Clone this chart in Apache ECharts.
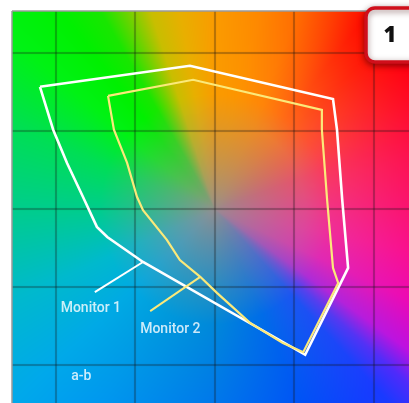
<!DOCTYPE html>
<html>
<head>
<meta charset="utf-8">
<script src="https://cdn.jsdelivr.net/npm/echarts@6/dist/echarts.min.js"></script>
<style>
  html, body { margin: 0; padding: 0; background: #ffffff; }
  #chart { width: 409px; height: 403px; }
</style>
</head>
<body>
<div id="chart"></div>
<script>
// Gamut outlines in the a-b plane (a to the right, b upward)
const monitor1 = [
  [-109.8, 78.3], [-15.5, 91.8], [74.5, 70.5], [77.0, 50.8], [80.3, 5.8],
  [84.0, -37.8], [57.0, -93.5], [-45.0, -34.0], [-67.5, -18.0], [-74.0, -11.5],
  [-82.8, 7.8], [-92.8, 29.5], [-101.5, 50.8], [-109.8, 78.3]
];
const monitor2 = [
  [-67.0, 72.5], [-13.5, 82.8], [67.5, 63.5], [67.5, 50.8], [70.8, 5.8],
  [74.5, -37.8], [77.8, -47.5], [55.8, -91.8], [43.0, -86.0], [22.3, -73.0],
  [1.5, -53.8], [-9.0, -43.5], [-21.8, -32.8], [-30.0, -19.8], [-45.0, -0.8],
  [-48.8, 7.8], [-55.0, 29.5], [-63.3, 50.8], [-67.0, 72.5]
];
// Leader lines from each outline to its caption
const leader1 = [[-45.0, -34.0], [-75.3, -53.3]];
const leader2 = [[-9.0, -43.5], [-40.5, -65.5]];
// Captions and their anchor points
const captionNames = ['Monitor 1', 'Monitor 2', 'a-b'];
const captionPoints = [[-77.8, -63.8], [-27.8, -77.3], [-83.8, -107.3]];
// Visible extent of the a-b plane
const aRange = [-127.4, 122.3];
const bRange = [-124.4, 126.9];
const badgeText = '1';

// Hue wheels used to paint the a-b plane: [angle in degrees, r, g, b]
const outerHues = [
  [0, 255, 0, 100], [15, 255, 0, 70], [30, 255, 0, 30], [45, 255, 0, 0],
  [52, 255, 12, 0], [58, 255, 50, 0], [67, 255, 100, 0], [77, 255, 130, 0],
  [90, 250, 155, 0], [100, 232, 175, 0], [108, 200, 190, 0], [114, 110, 210, 0],
  [120, 25, 230, 0], [128, 0, 240, 0], [140, 0, 242, 20], [158, 0, 222, 85],
  [180, 0, 205, 140], [204, 0, 185, 205], [224, 0, 168, 235], [240, 0, 150, 242],
  [270, 0, 110, 245], [294, 0, 75, 250], [312, 25, 58, 255], [318, 80, 42, 250],
  [324, 190, 15, 225], [335, 240, 0, 180], [348, 255, 0, 135], [360, 255, 0, 100]
];
const innerHues = [
  [0, 240, 60, 140], [20, 248, 70, 100], [35, 252, 95, 60], [50, 255, 120, 30],
  [65, 255, 140, 10], [80, 252, 152, 0], [90, 250, 155, 0], [100, 232, 175, 0],
  [108, 200, 190, 0], [114, 110, 210, 0], [120, 25, 230, 0], [128, 0, 240, 0],
  [140, 0, 242, 20], [158, 0, 222, 85], [180, 0, 205, 140], [204, 0, 185, 205],
  [224, 0, 170, 225], [245, 0, 155, 215], [270, 0, 140, 212], [294, 0, 115, 228],
  [312, 30, 90, 238], [318, 90, 70, 232], [324, 170, 50, 212], [335, 220, 50, 180],
  [348, 235, 55, 160], [360, 240, 60, 140]
];

const chart = echarts.init(document.getElementById('chart'), null, { renderer: 'canvas' });

const lineSeries = (data, color, width, z) => ({
  type: 'line', data: data, symbol: 'none', silent: true, z: z, clip: false,
  lineStyle: { color: color, width: width, join: 'miter' }
});

const splitStyle = { color: 'rgba(25,25,25,0.26)', width: 2, shadowBlur: 2, shadowColor: 'rgba(0,0,0,0.25)' };
const axisCommon = {
  type: 'value', splitNumber: 5,
  axisLine: { show: false }, axisTick: { show: false }, axisLabel: { show: false },
  splitLine: { show: true, showMinLine: false, showMaxLine: false, lineStyle: splitStyle }
};

chart.setOption({
  animation: false,
  backgroundColor: '#ffffff',
  grid: { left: 12, right: 0, top: 11, bottom: 0 },
  xAxis: Object.assign({ min: aRange[0], max: aRange[1] }, axisCommon),
  yAxis: Object.assign({ min: bRange[0], max: bRange[1] }, axisCommon),
  series: [
    lineSeries(monitor1, '#ffffff', 2.6, 4),
    lineSeries(monitor2, '#fbe97a', 2.2, 5),
    lineSeries(leader1, '#ffffff', 2, 4),
    lineSeries(leader2, '#fbe97a', 2, 5),
    {
      type: 'scatter', silent: true, z: 6, symbolSize: 0,
      itemStyle: { color: 'transparent' },
      data: captionNames.map((n, i) => ({ name: n, value: captionPoints[i] })),
      label: {
        show: true, position: 'inside', formatter: '{b}', color: '#ffffff',
        fontFamily: 'Roboto', fontWeight: 500, fontSize: 14
      }
    }
  ]
});

// Paint the a-b colour plane behind the grid
function hueColor(stops, deg) {
  for (let i = 1; i < stops.length; i++) {
    const a = stops[i - 1], b = stops[i];
    if (deg <= b[0]) {
      const t = (deg - a[0]) / (b[0] - a[0]);
      return [a[1] + (b[1] - a[1]) * t, a[2] + (b[2] - a[2]) * t, a[3] + (b[3] - a[3]) * t];
    }
  }
  return stops[0].slice(1);
}

const plotX = 12, plotY = 11, plotW = 409 - plotX, plotH = 403 - plotY;
const origin = chart.convertToPixel('grid', [0, 0]);
const cvs = document.createElement('canvas');
cvs.width = plotW; cvs.height = plotH;
const ctx = cvs.getContext('2d');
const img = ctx.createImageData(plotW, plotH);
const gray = [150, 142, 142];
for (let y = 0; y < plotH; y++) {
  for (let x = 0; x < plotW; x++) {
    const dx = x + plotX - origin[0];
    const dy = origin[1] - (y + plotY);
    let deg = Math.atan2(dy, dx) * 180 / Math.PI;
    if (deg < 0) deg += 360;
    const r = Math.sqrt(dx * dx + dy * dy);
    const t = Math.pow(Math.min(1, r / 115), 0.8);
    const s = Math.max(0, Math.min(1, (r - 90) / 150));
    const ci = hueColor(innerHues, deg), co = hueColor(outerHues, deg);
    const k = (y * plotW + x) * 4;
    for (let ch = 0; ch < 3; ch++) {
      const c = ci[ch] + (co[ch] - ci[ch]) * s;
      img.data[k + ch] = gray[ch] + (c - gray[ch]) * t;
    }
    img.data[k + 3] = 255;
  }
}
ctx.putImageData(img, 0, 0);

chart.setOption({
  graphic: [
    { type: 'image', z: -10, silent: true, style: { image: cvs, x: plotX, y: plotY, width: plotW, height: plotH } },
    { type: 'line', z: 21, silent: true, shape: { x1: plotX, y1: plotY, x2: plotX, y2: 403 }, style: { stroke: '#9a9a9a', lineWidth: 1.5 } },
    { type: 'line', z: 21, silent: true, shape: { x1: plotX, y1: plotY, x2: 409, y2: plotY }, style: { stroke: '#9a9a9a', lineWidth: 1.5 } },
    {
      type: 'rect', z: 30, silent: true,
      shape: { x: 366, y: 8, width: 70, height: 54, r: 9 },
      style: { fill: '#ffffff', stroke: '#d00f1b', lineWidth: 3.5, shadowBlur: 6, shadowColor: 'rgba(60,0,0,0.5)', shadowOffsetY: 2 }
    },
    {
      type: 'text', z: 31, silent: true,
      style: { text: badgeText, x: 390, y: 36, align: 'center', verticalAlign: 'middle', fill: '#111111', font: '800 22px "Open Sans"' }
    }
  ]
});
</script>
</body>
</html>
